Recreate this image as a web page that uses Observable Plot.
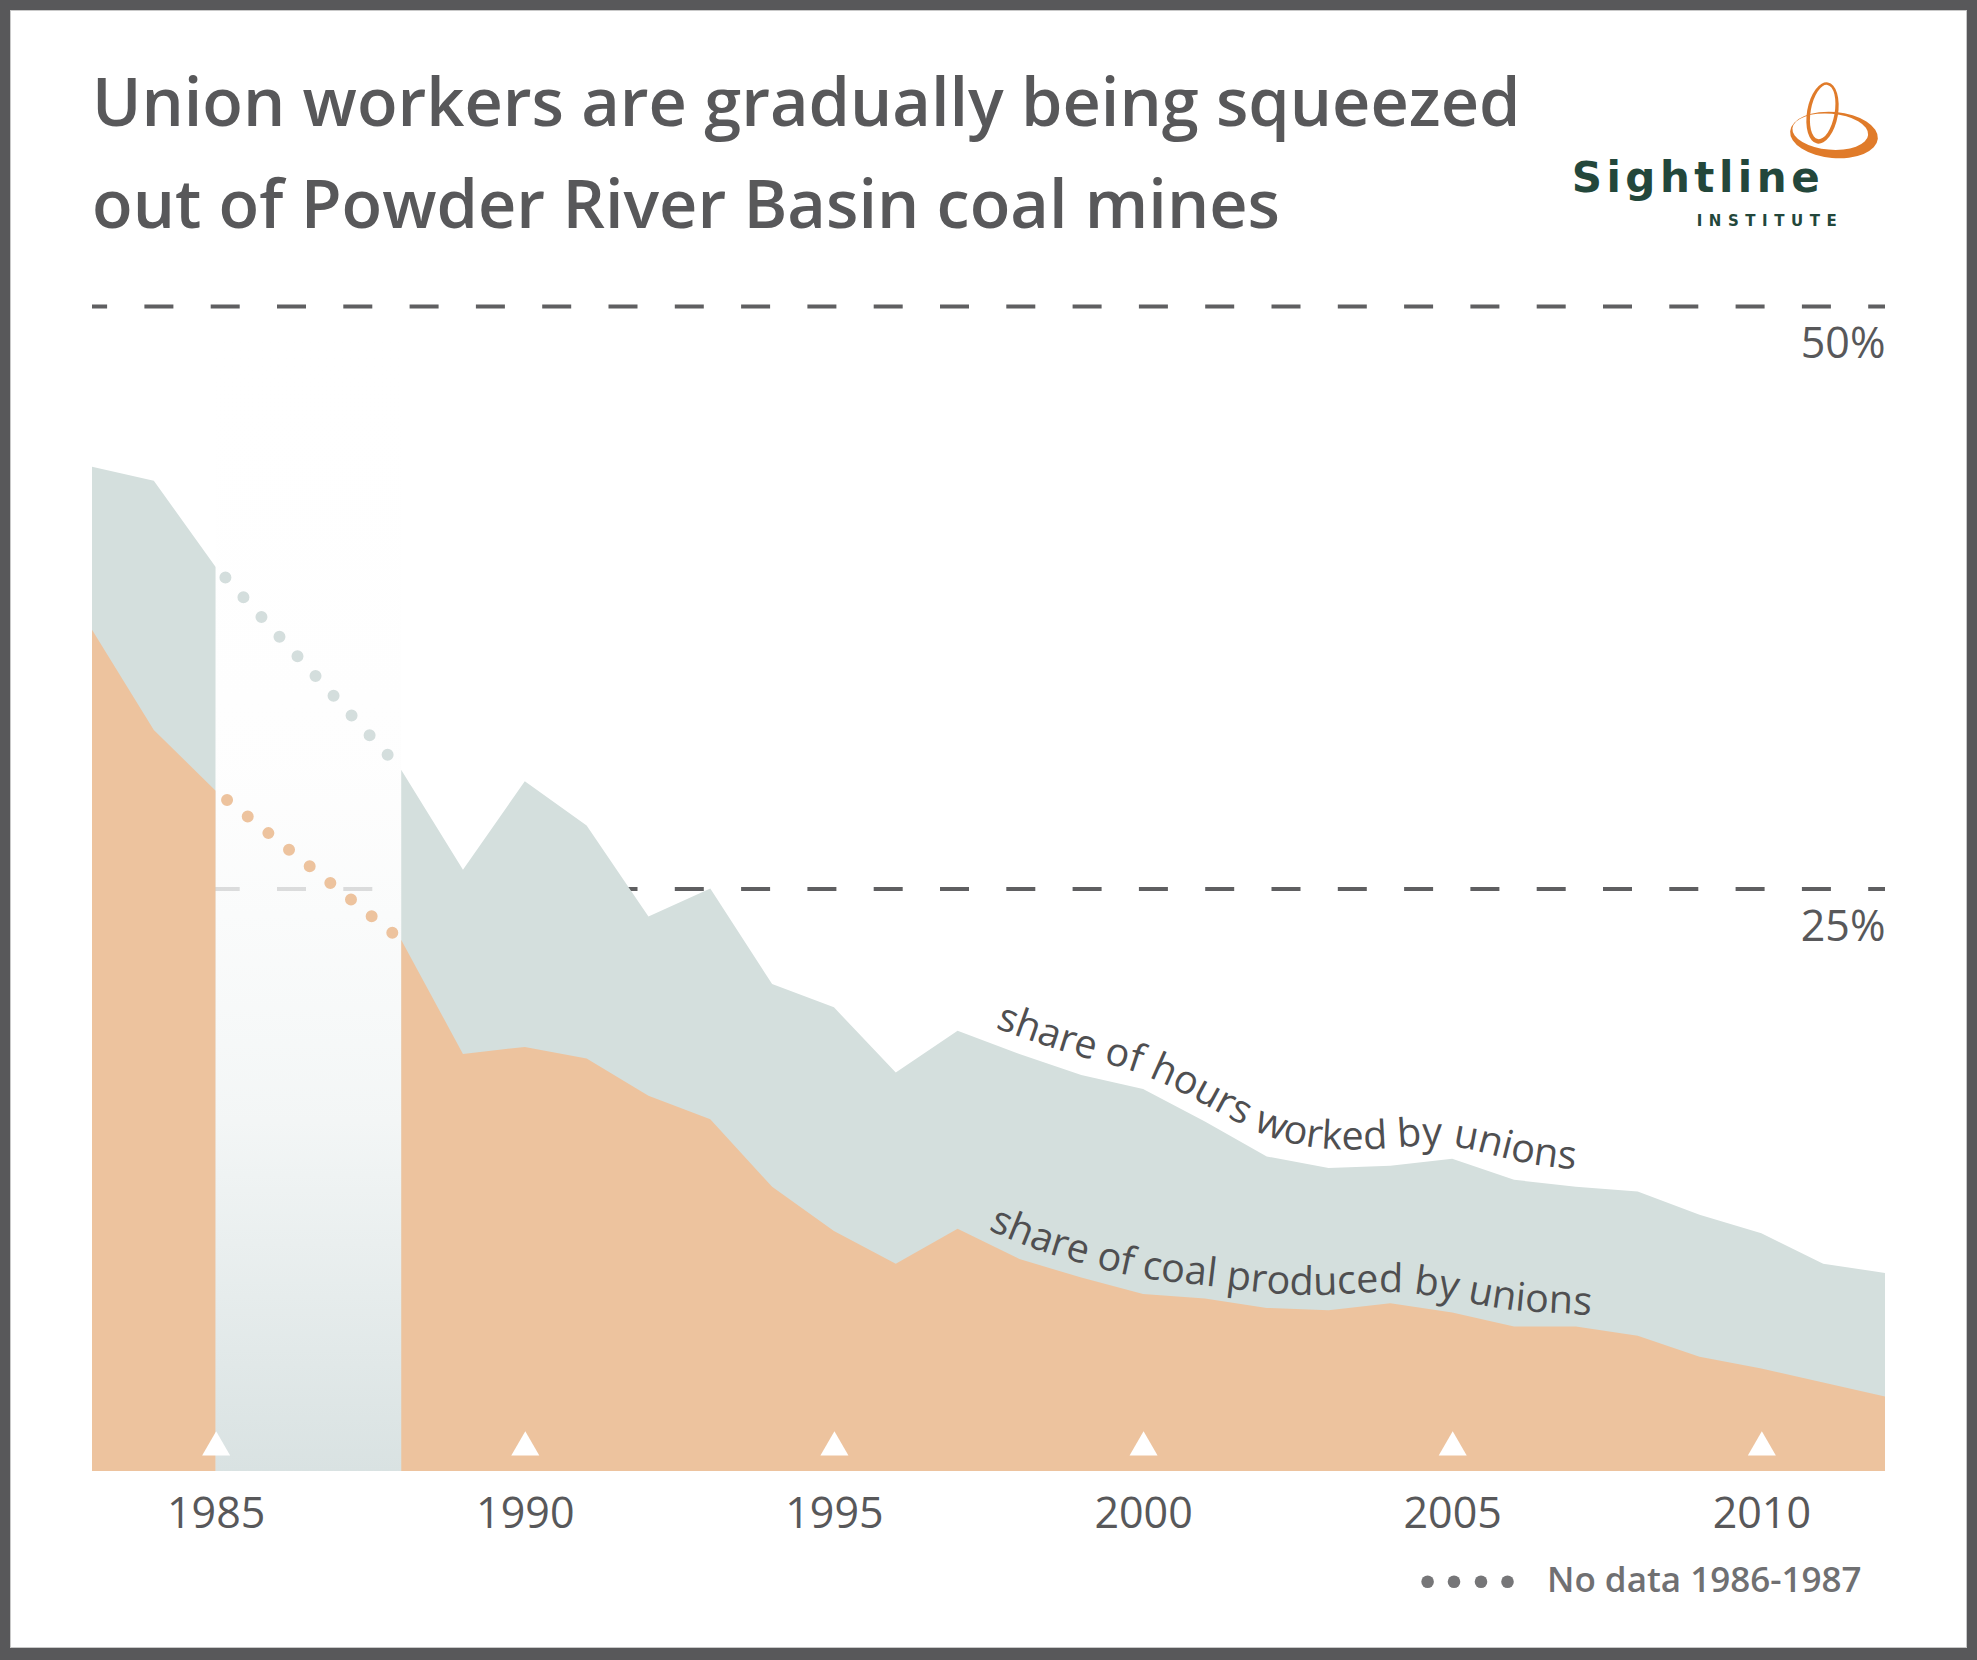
<!DOCTYPE html>
<html>
<head>
<meta charset="utf-8">
<script src="https://cdn.jsdelivr.net/npm/d3@7"></script>
<script src="https://cdn.jsdelivr.net/npm/@observablehq/plot@0.6"></script>
<style>
html, body { margin: 0; padding: 0; background: #fff; }
#page { position: relative; width: 1977px; height: 1660px; overflow: hidden; background: #fff; font-family: "Open Sans", sans-serif; }
#frame { position: absolute; left: 0; top: 0; width: 1977px; height: 1660px; box-sizing: border-box; border: 10px solid #58585a; border-bottom-width: 12px; pointer-events: none; box-shadow: inset 0 0 0 1px #c9c9c9; }
.title { position: absolute; left: 92px; margin: 0; font-size: 66.6px; font-weight: 600; line-height: 101.6px; height: 101.6px; color: #58585a; white-space: nowrap; }
#t1 { top: 50px; }
#t2 { top: 151.6px; }
#chart { position: absolute; left: 0; top: 260px; }
#logo { position: absolute; left: 1540px; top: 60px; }
#legend { position: absolute; left: 1400px; top: 1550px; }
</style>
</head>
<body>
<div id="page">
  <div class="title" id="t1">Union workers are gradually being squeezed</div>
  <div class="title" id="t2">out of Powder River Basin coal mines</div>
  <svg id="logo" width="360" height="190" viewBox="0 0 360 190">
    <g fill="#e07b2a" fill-rule="evenodd">
      <path transform="rotate(10 282.5 53)" d="M267 53 a15.5 31 0 1 0 31 0 a15.5 31 0 1 0 -31 0 Z M270.5 52 a12 27.5 0 1 0 24 0 a12 27.5 0 1 0 -24 0 Z"/>
      <path transform="rotate(5 294 75)" d="M250 75 a44 23 0 1 0 88 0 a44 23 0 1 0 -88 0 Z M252 72 a38 18 0 1 0 76 0 a38 18 0 1 0 -76 0 Z"/>
    </g>
    <text x="31.7" y="131.7" font-family="'DejaVu Sans', sans-serif" font-weight="700" font-size="42" fill="#23473b" textLength="248" lengthAdjust="spacing">Sightline</text>
    <text x="156.7" y="165.7" font-family="'DejaVu Sans', sans-serif" font-weight="700" font-size="15" fill="#23473b" textLength="140" lengthAdjust="spacing">INSTITUTE</text>
  </svg>
  <div id="chart"></div>
  <svg id="legend" width="520" height="70" viewBox="0 0 520 70">
    <g fill="#767678">
      <circle cx="27.6" cy="31.7" r="6.3"/>
      <circle cx="54" cy="31.7" r="6.3"/>
      <circle cx="81" cy="31.7" r="6.3"/>
      <circle cx="107.5" cy="31.7" r="6.3"/>
    </g>
    <text x="147" y="42" font-family="'Open Sans', sans-serif" font-weight="600" font-size="35" fill="#707072">No data 1986-1987</text>
  </svg>
  <div id="frame"></div>
</div>
<script>
// ---- data ----
const years = [1983, 1984, 1985, 1986, 1987, 1988, 1989, 1990, 1991, 1992, 1993, 1994, 1995, 1996, 1997,
               1998, 1999, 2000, 2001, 2002, 2003, 2004, 2005, 2006, 2007, 2008, 2009, 2010, 2011, 2012];
// share of hours worked by unions (%)
const hours = [43.1, 42.5, 38.8, null, null, 30.1, 25.8, 29.6, 27.7, 23.8, 25.0, 20.9, 19.9, 17.1, 18.9,
               17.9, 17.0, 16.4, 15.0, 13.5, 13.0, 13.1, 13.4, 12.5, 12.2, 12.0, 11.0, 10.2, 8.9, 8.5];
// share of coal produced by unions (%)
const coal = [36.1, 31.8, 29.2, null, null, 22.8, 17.9, 18.2, 17.7, 16.1, 15.1, 12.2, 10.3, 8.9, 10.4,
              9.1, 8.3, 7.6, 7.4, 7.0, 6.9, 7.2, 6.8, 6.2, 6.2, 5.8, 4.9, 4.4, 3.8, 3.2];
const tickYears = [1985, 1990, 1995, 2000, 2005, 2010];
const pctTicks = [25, 50];
const gapSpan = [{start: 1985, end: 1988}];
const labelFrom = 1997;
const hoursLabel = "share of hours worked by unions";
const coalLabel = "share of coal produced by unions";

// ---- tables built from the arrays ----
const num = v => (v == null ? NaN : v);
const table = years.map((year, i) => ({year, hours: num(hours[i]), coal: num(coal[i])}));
const iA = years.indexOf(gapSpan[0].start), iB = years.indexOf(gapSpan[0].end);
const bridgeHours = [{year: years[iA], v: hours[iA]}, {year: years[iB], v: hours[iB]}];
const bridgeCoal = [{year: years[iA], v: coal[iA]}, {year: years[iB], v: coal[iB]}];

const plot = Plot.plot({
  width: 1977,
  height: 1285,
  marginLeft: 92,
  marginRight: 92,
  marginTop: 46,
  marginBottom: 74,
  x: {domain: [1983, 2012], ticks: tickYears, tickFormat: d => String(d), tickSize: 0, tickPadding: 26, label: null},
  y: {domain: [0, 50], axis: null},
  style: {fontFamily: '"Open Sans", sans-serif', fontSize: "43px", color: "#58585a", background: "transparent", overflow: "visible"},
  marks: [
    Plot.ruleY(pctTicks, {stroke: "#5f5f61", strokeWidth: 4, strokeDasharray: "29 37.3", strokeDashoffset: 13.9}),
    Plot.areaY(table, {x: "year", y1: () => 0, y2: "hours", fill: "#d4dfdd"}),
    Plot.areaY(table, {x: "year", y1: () => 0, y2: "coal", fill: "#edc39e"}),
    Plot.rect(gapSpan, {x1: "start", x2: "end", y1: () => 0, y2: () => 50, fill: "url(#gapGrad)"}),
    Plot.line(bridgeHours, {x: "year", y: "v", stroke: "#d4dedd", strokeWidth: 12, strokeLinecap: "round", strokeDasharray: "0 26.7", strokeDashoffset: 13}),
    Plot.line(bridgeCoal, {x: "year", y: "v", stroke: "#edc39e", strokeWidth: 12, strokeLinecap: "round", strokeDasharray: "0 26.5", strokeDashoffset: 12.5}),
    Plot.dot(tickYears, {x: d => d, y: () => 0, symbol: "triangle", r: 10.4, fill: "white", dy: -24}),
    Plot.text(pctTicks, {x: () => 2012, y: d => d, text: d => `${d}%`, textAnchor: "end", dy: 38, fontSize: 43, fill: "#58585a"})
  ]
});
document.getElementById("chart").appendChild(plot);

const svg = plot.tagName.toLowerCase() === "svg" ? plot : plot.querySelector("svg");
const NS = "http://www.w3.org/2000/svg";
const defs = document.createElementNS(NS, "defs");
defs.innerHTML = `
  <linearGradient id="gapGrad" x1="0" y1="0" x2="0" y2="1">
    <stop offset="0" stop-color="#ffffff" stop-opacity="0"/>
    <stop offset="0.4" stop-color="#fdfdfd" stop-opacity="0.7"/>
    <stop offset="0.7" stop-color="#f3f6f6" stop-opacity="1"/>
    <stop offset="1" stop-color="#d9e2e2" stop-opacity="1"/>
  </linearGradient>`;
svg.insertBefore(defs, svg.firstChild);

// curved labels following the area tops, placed through the plot's scales
const sx = plot.scale("x"), sy = plot.scale("y");
const X = sx.apply ? v => sx.apply(v) : d3.scaleLinear(sx.domain, sx.range);
const Y = sy.apply ? v => sy.apply(v) : d3.scaleLinear(sy.domain, sy.range);
const lineGen = d3.line().curve(d3.curveBasis);
function addLabel(id, values, lift, startOffset, label) {
  const pts = years.map((yr, i) => [yr, values[i]])
    .filter(([yr, v]) => yr >= labelFrom && v != null)
    .map(([yr, v]) => [X(yr), Y(v) - lift]);
  const p = document.createElementNS(NS, "path");
  p.setAttribute("id", id);
  p.setAttribute("d", lineGen(pts));
  p.setAttribute("fill", "none");
  defs.appendChild(p);
  const t = document.createElementNS(NS, "text");
  t.setAttribute("font-size", "39.5");
  t.setAttribute("font-weight", "500");
  t.setAttribute("fill", "#4f4f51");
  t.setAttribute("text-anchor", "start");
  t.setAttribute("font-family", '"Open Sans", sans-serif');
  const tp = document.createElementNS(NS, "textPath");
  tp.setAttribute("href", "#" + id);
  tp.setAttribute("startOffset", startOffset);
  tp.textContent = label;
  t.appendChild(tp);
  svg.appendChild(t);
}
addLabel("hoursPath", hours, 17, 40, hoursLabel);
addLabel("coalPath", coal, 14, 34, coalLabel);
</script>
</body>
</html>
